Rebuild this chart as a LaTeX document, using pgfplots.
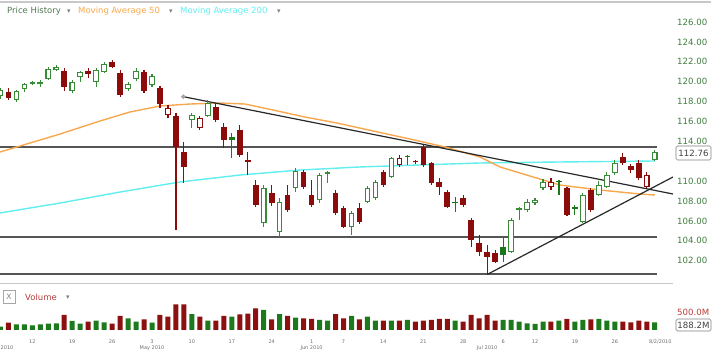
\documentclass[border=0pt]{standalone}
\usepackage{pgfplots}
\usepackage{pgfplotstable}
\usepackage{fontspec}
\setmainfont{DejaVu Sans}
\pgfplotsset{compat=1.18}
\definecolor{cg}{RGB}{56,140,56}
\definecolor{cgf}{RGB}{28,118,28}
\definecolor{cr}{RGB}{140,12,12}
\definecolor{vg}{RGB}{28,122,28}
\definecolor{vr}{RGB}{140,16,16}
\definecolor{ma50}{RGB}{247,168,78}
\definecolor{ma200}{RGB}{96,238,238}
\definecolor{hl}{RGB}{85,85,85}
\definecolor{tl}{RGB}{40,40,40}
\definecolor{tickg}{RGB}{62,125,62}
\definecolor{legg}{RGB}{82,120,82}
\definecolor{volr}{RGB}{185,60,60}
\definecolor{framec}{RGB}{200,200,200}
\definecolor{datec}{RGB}{110,110,110}

\pgfplotsset{
  wick/.style={draw=none, mark=none, forget plot,
    error bars/y dir=plus, error bars/y explicit, error bars/error mark=none,
    error bars/error bar style={draw=#1, line width=1.1pt}},
  body/.style={draw=none, mark=none, forget plot,
    error bars/y dir=plus, error bars/y explicit, error bars/error mark=none,
    error bars/error bar style={draw=#1, line width=5.6pt}},
  hollow/.style={draw=none, mark=none, forget plot,
    error bars/y dir=plus, error bars/y explicit, error bars/error mark=none,
    error bars/error bar style={draw=white, line width=3.4pt}},
}

% green hollow (close > open, up day)
\pgfplotstableread{
i lo bl bh hi
-19 118.26 118.57 119.17 119.37
-17 117.96 118.16 119.07 119.17
-16 118.97 119.27 119.77 119.87
-15 119.67 119.80 119.94 120.07
-14 119.50 119.80 120.00 120.17
-13 120.17 120.27 121.28 121.48
-12 121.08 121.21 121.48 121.68
-10 118.84 119.07 120.00 120.17
-9 120.00 120.51 120.95 121.08
-7 119.50 120.00 121.18 121.38
-6 120.88 121.01 121.78 121.98
-3 119.07 119.27 119.74 120.00
-2 120.07 120.27 121.11 121.38
0 119.47 119.67 120.61 120.78
5 115.35 116.15 116.65 116.86
7 116.45 116.58 117.83 118.16
14 105.42 105.76 109.28 109.61
16 104.41 104.92 107.94 108.31
18 108.91 109.28 111.02 111.32
21 107.80 108.11 110.62 110.82
22 109.82 110.77 110.95 111.07
25 104.59 105.42 106.77 107.00
27 107.80 107.94 109.28 109.51
28 108.11 108.28 109.95 110.12
30 110.32 110.45 112.30 112.43
45 102.78 102.91 106.09 106.30
46 106.09 107.10 107.27 107.40
47 106.90 107.10 107.94 108.21
48 107.60 107.77 108.11 108.31
49 109.11 109.28 109.95 110.22
54 105.79 105.92 108.61 108.81
56 108.51 108.61 109.61 110.02
57 109.31 109.44 110.62 110.92
58 110.62 110.79 111.80 112.13
63 112.03 112.13 112.90 113.13
}\GH
% green filled
\pgfplotstableread{
i lo bl bh hi
10 112.33 114.14 114.47 114.84
32 111.63 112.43 112.58 112.63
38 106.93 107.80 107.94 108.44
44 101.90 102.58 103.41 104.41
51 108.61 109.87 110.02 110.12
53 106.60 107.20 107.40 107.60
}\GF
% red hollow
\pgfplotstableread{
i lo bl bh hi
2 116.35 116.65 117.33 117.66
6 115.15 115.32 116.32 116.55
31 111.43 111.63 112.30 112.63
50 109.11 109.44 109.95 110.32
62 109.31 109.44 110.62 110.95
}\RH
% red filled
\pgfplotstableread{
i lo bl bh hi
-18 118.16 118.39 119.00 119.37
-11 119.07 119.50 121.08 121.35
-8 120.35 120.75 121.11 121.35
-5 121.38 121.51 121.95 122.19
-4 118.46 118.67 120.85 121.18
-1 118.87 119.07 121.01 121.18
1 117.39 117.73 119.34 119.57
3 105.09 113.44 116.55 116.86
4 109.82 111.43 112.93 113.94
8 115.95 116.15 117.49 117.86
9 113.34 114.14 115.48 115.85
11 112.43 112.63 115.15 115.65
12 110.62 111.96 112.13 112.96
13 107.40 107.60 109.61 110.12
15 107.50 107.77 108.78 109.61
17 106.90 107.10 108.61 109.61
19 109.21 109.44 110.95 111.12
20 107.40 107.60 108.61 110.12
23 106.60 106.77 108.78 109.11
24 105.29 105.42 107.27 107.50
26 105.69 105.92 107.27 107.80
29 109.41 109.61 110.95 111.12
33 111.73 111.88 111.98 112.13
34 111.43 111.63 113.47 113.64
35 109.61 109.79 111.80 111.93
36 108.61 109.44 109.95 110.32
37 107.30 107.43 108.94 109.11
39 107.40 107.60 108.28 108.61
40 103.41 104.08 106.09 106.30
41 102.47 102.91 103.75 104.59
42 100.56 102.40 102.91 103.58
43 101.77 101.90 102.75 103.08
52 106.50 106.60 109.28 109.41
55 106.90 107.10 109.11 109.31
59 111.63 111.80 112.46 112.83
60 110.82 111.12 111.53 111.73
61 110.12 110.29 111.80 112.13
}\RF
% volume (millions)
\pgfplotstableread{
i v
-19 93
-17 157
-16 157
-15 130
-14 157
-13 176
-12 185
-10 250
-9 176
-7 259
-6 213
-3 324
-2 231
0 204
5 444
7 259
10 370
14 556
16 444
18 343
21 278
22 259
25 389
27 370
28 259
30 259
32 278
38 259
44 278
45 278
46 231
47 185
48 167
49 231
51 259
53 231
54 278
56 306
57 259
58 231
63 213
}\VG
\pgfplotstableread{
i v
-18 204
-11 417
-8 231
-5 176
-4 389
-1 296
1 417
2 370
3 713
4 713
6 370
8 259
9 389
11 435
12 454
13 602
15 296
17 389
19 324
20 306
23 444
24 324
26 296
29 259
31 259
33 231
34 259
35 278
36 306
37 306
39 231
40 417
41 324
42 417
43 259
50 231
52 306
55 296
59 231
60 213
61 259
62 231
}\VR

\begin{document}
\begin{tikzpicture}[x=1pt,y=1pt]
\path[use as bounding box] (0pt,0pt) rectangle (720pt,-352pt);
% frame lines
\draw[framec, line width=2pt] (0pt,-2pt) -- (711pt,-2pt);
\draw[framec, line width=1.6pt] (0pt,-283.5pt) -- (673pt,-283.5pt);

\begin{axis}[
  at={(0pt,-283pt)}, anchor=south west, scale only axis,
  width=673pt, height=281pt,
  xmin=-19.05, xmax=65.29, ymin=99.76, ymax=128.02,
  axis line style={draw=none}, tick style={draw=none}, major tick length=0pt,
  xtick=\empty, ytick={102,104,106,108,110,114,116,118,120,122,124,126}, yticklabel pos=right,
  yticklabel style={anchor=west, inner sep=0pt, xshift=4pt, text=tickg,
    font=\fontsize{8.6}{10}\selectfont},
  /pgf/number format/fixed, /pgf/number format/fixed zerofill,
  /pgf/number format/precision=2, /pgf/number format/assume math mode=true,
]
% support / resistance lines
\addplot[hl, line width=1.8pt, forget plot] coordinates {(-19.05,113.47) (63.28,113.47)};
\addplot[hl, line width=1.8pt, forget plot] coordinates {(-19.05,104.41) (63.28,104.41)};
\addplot[hl, line width=1.8pt, forget plot] coordinates {(-19.05,100.66) (63.28,100.66)};
% moving averages
\addplot[ma200, line width=1.4pt, forget plot] coordinates {
(-19.05,106.80) (-11.53,107.80) (-4.01,108.91) (3.51,109.92) (11.03,110.62)
(18.55,111.12) (26.07,111.43) (33.58,111.63) (41.10,111.83) (51.13,111.93) (63.03,112.03)};
\addplot[ma50, line width=1.4pt, forget plot] coordinates {
(-19.05,112.93) (-15.29,113.84) (-11.53,114.74) (-6.52,116.05) (-2.76,116.96)
(1.00,117.56) (4.76,117.76) (8.52,117.86) (11.65,117.76) (15.16,117.16)
(19.17,116.45) (23.18,115.85) (27.69,115.05) (32.33,114.24) (36.72,113.44)
(41.10,112.43) (43.61,111.43) (46.12,110.82) (51.13,109.61) (56.14,109.11)
(61.15,108.71) (63.03,108.61)};
% trend lines
\addplot[tl, line width=1.2pt, forget plot, mark=*, mark size=1.6pt,
  mark options={fill=gray!70, draw=gray!70}, mark indices={1}] coordinates {(3.92,118.50) (65.29,108.71)};
\addplot[tl, line width=1.2pt, forget plot] coordinates {(42.1,100.66) (65.29,110.42)};
% candles: wicks
\addplot[wick=cg] table[x=i, y=lo, y error plus expr={\thisrow{hi}-\thisrow{lo}}] {\GH};
\addplot[wick=cgf] table[x=i, y=lo, y error plus expr={\thisrow{hi}-\thisrow{lo}}] {\GF};
\addplot[wick=cr] table[x=i, y=lo, y error plus expr={\thisrow{hi}-\thisrow{lo}}] {\RH};
\addplot[wick=cr] table[x=i, y=lo, y error plus expr={\thisrow{hi}-\thisrow{lo}}] {\RF};
% candles: bodies
\addplot[body=cg] table[x=i, y=bl, y error plus expr={max(\thisrow{bh}-\thisrow{bl},0.12)}] {\GH};
\addplot[body=cgf] table[x=i, y=bl, y error plus expr={max(\thisrow{bh}-\thisrow{bl},0.12)}] {\GF};
\addplot[body=cr] table[x=i, y=bl, y error plus expr={max(\thisrow{bh}-\thisrow{bl},0.12)}] {\RH};
\addplot[body=cr] table[x=i, y=bl, y error plus expr={max(\thisrow{bh}-\thisrow{bl},0.12)}] {\RF};
% hollow interiors
\addplot[hollow] table[x=i, y expr={\thisrow{bl}+0.11}, y error plus expr={max(\thisrow{bh}-\thisrow{bl}-0.22,0)}] {\GH};
\addplot[hollow] table[x=i, y expr={\thisrow{bl}+0.11}, y error plus expr={max(\thisrow{bh}-\thisrow{bl}-0.22,0)}] {\RH};
\end{axis}

\begin{axis}[
  at={(0pt,-330pt)}, anchor=south west, scale only axis,
  width=673pt, height=30pt,
  xmin=-19.05, xmax=65.29, ymin=0, ymax=833,
  axis line style={draw=none}, tick style={draw=none}, major tick length=0pt,
  ytick=\empty,
  xtick={-15,-10,-5,0,5,10,15,20,24,29,34,39,44,48,53,58},
  xticklabels={12,19,26,3,10,17,24,1,7,14,21,28,6,12,19,26},
  xticklabel style={anchor=center, yshift=-12pt, inner sep=0pt, text=datec,
    font=\fontsize{5}{6}\selectfont},
  clip=false,
]
\addplot[ybar, bar width=5pt, bar shift=0pt, fill=vg, draw=none] table[x=i, y=v] {\VG};
\addplot[ybar, bar width=5pt, bar shift=0pt, fill=vr, draw=none] table[x=i, y=v] {\VR};
\node[text=datec, font=\fontsize{5}{6}\selectfont] at (axis cs:0,0) [yshift=-18pt] {May 2010};
\node[text=datec, font=\fontsize{5}{6}\selectfont] at (axis cs:20,0) [yshift=-18pt] {Jun 2010};
\node[text=datec, font=\fontsize{5}{6}\selectfont] at (axis cs:42,0) [yshift=-18pt] {Jul 2010};
\node[text=datec, font=\fontsize{5}{6}\selectfont] at (axis cs:63.7,0) [yshift=-12pt] {8/2/2010};
\end{axis}
\node[text=datec, font=\fontsize{5}{6}\selectfont, anchor=west, inner sep=0pt] at (0.5pt,-348pt) {2010};

% legend header
\node[anchor=west, inner sep=0pt, text=legg, font=\fontsize{8.5}{10}\selectfont] at (7pt,-11pt) {Price History};
\node[inner sep=0pt, text=gray, font=\fontsize{7}{8}\selectfont] at (69pt,-11.5pt) {▾};
\node[anchor=west, inner sep=0pt, text=ma50, font=\fontsize{8.5}{10}\selectfont] at (78pt,-11pt) {Moving Average 50};
\node[inner sep=0pt, text=gray, font=\fontsize{7}{8}\selectfont] at (171pt,-11.5pt) {▾};
\node[anchor=west, inner sep=0pt, text=ma200, font=\fontsize{8.5}{10}\selectfont] at (180pt,-11pt) {Moving Average 200};
\node[inner sep=0pt, text=gray, font=\fontsize{7}{8}\selectfont] at (279pt,-11.5pt) {▾};

% price tag
\draw[gray, fill=white, rounded corners=1.5pt, line width=0.6pt] (676pt,-146pt) rectangle (711pt,-160pt);
\node[text=black!75, font=\fontsize{8.6}{10}\selectfont, inner sep=0pt] at (693.5pt,-153pt) {112.76};

% volume header
\draw[gray!70, line width=0.6pt] (3pt,-290pt) rectangle (15pt,-303pt);
\node[text=gray, font=\fontsize{7.5}{9}\selectfont, inner sep=0pt] at (9pt,-296.5pt) {X};
\node[anchor=west, inner sep=0pt, text=volr, font=\fontsize{8.5}{10}\selectfont] at (25pt,-297pt) {Volume};
\node[inner sep=0pt, text=gray, font=\fontsize{7}{8}\selectfont] at (68pt,-297.5pt) {▾};
\node[anchor=west, inner sep=0pt, text=volr, font=\fontsize{8.6}{10}\selectfont] at (677pt,-312pt) {500.0M};
\draw[gray, fill=white, rounded corners=1.5pt, line width=0.6pt] (676pt,-319pt) rectangle (711pt,-331pt);
\node[text=black!75, font=\fontsize{8.6}{10}\selectfont, inner sep=0pt] at (693.5pt,-325pt) {188.2M};
\end{tikzpicture}
\end{document}
